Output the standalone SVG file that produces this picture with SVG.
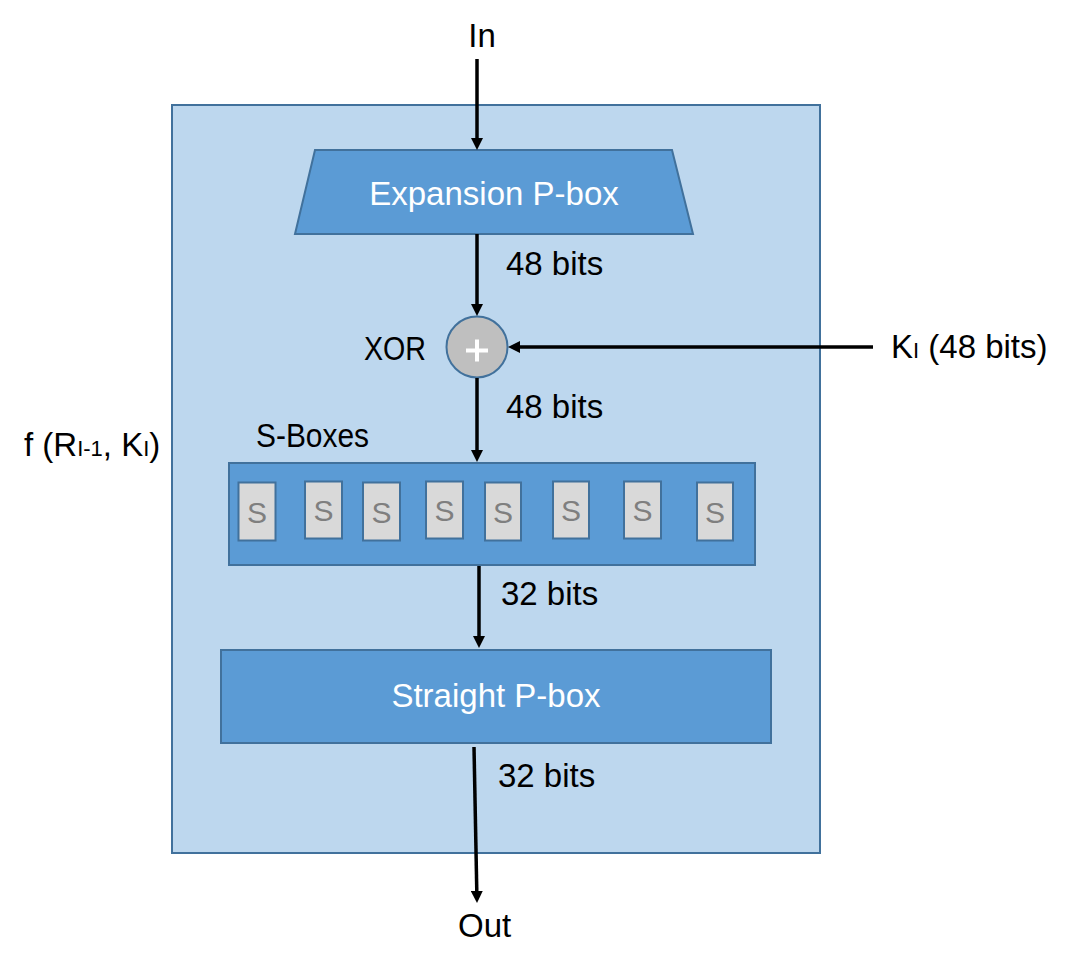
<svg xmlns="http://www.w3.org/2000/svg" width="1073" height="970" viewBox="0 0 1073 970">
<style>
text{font-family:"Liberation Sans",Arial,sans-serif;font-size:33px;fill:#000}
.w{fill:#fff}
.box{fill:#5B9BD5;stroke:#41719C;stroke-width:2}
.s{fill:#D9D9D9;stroke:#41719C;stroke-width:2}
.st{fill:#7F7F7F;font-size:30px;text-anchor:middle}
.c{fill:none;stroke:#000;stroke-width:3.5}
.sub{font-size:22px}
</style>
<defs>
<marker id="arr" viewBox="0 0 12 12" refX="6" refY="6" markerWidth="12" markerHeight="12" markerUnits="userSpaceOnUse" orient="auto">
<path d="M0,0 L12,6 L0,12 z" fill="#000"/>
</marker>
</defs>
<rect width="1073" height="970" fill="#fff"/>
<g id="outer">
<rect x="172" y="105" width="648" height="748" fill="#BDD7EE" stroke="#41719C" stroke-width="2"/>
<text x="24" y="456">f (R<tspan class="sub">I-1</tspan>, K<tspan class="sub">I</tspan>)</text>
</g>
<g id="in"><text x="482" y="47" text-anchor="middle">In</text></g>
<g id="expansion">
<polygon class="box" points="315,150 672,150 693,234 295,234"/>
<text class="w" x="494" y="205" text-anchor="middle">Expansion P-box</text>
</g>
<g id="xor">
<circle cx="477" cy="347" r="30.5" fill="#BFBFBF" stroke="#41719C" stroke-width="2"/>
<path d="M466,350.5 H488 M477,339.5 V361.5" stroke="#fff" stroke-width="4" fill="none"/>
<text x="364" y="360" textLength="62" lengthAdjust="spacingAndGlyphs">XOR</text>
</g>
<g id="key"><text x="891" y="358">K<tspan class="sub">I</tspan> (48 bits)</text></g>
<g id="sboxes">
<text x="256" y="447" textLength="113" lengthAdjust="spacingAndGlyphs">S-Boxes</text>
<rect class="box" x="229" y="463" width="526" height="102"/>
<rect class="s" x="238.5" y="482.5" width="37" height="58"/><text class="st" x="257" y="523">S</text>
<rect class="s" x="305" y="481.5" width="37" height="57"/><text class="st" x="323.5" y="521">S</text>
<rect class="s" x="363" y="482.5" width="37" height="58"/><text class="st" x="381.5" y="523">S</text>
<rect class="s" x="426" y="481.5" width="37" height="57"/><text class="st" x="444.5" y="521">S</text>
<rect class="s" x="485" y="482.5" width="36" height="58"/><text class="st" x="503" y="523">S</text>
<rect class="s" x="553" y="481.5" width="36" height="57"/><text class="st" x="571" y="521">S</text>
<rect class="s" x="624" y="481.5" width="37" height="57"/><text class="st" x="642.5" y="521">S</text>
<rect class="s" x="697" y="482.5" width="36" height="58"/><text class="st" x="715" y="523">S</text>
</g>
<g id="straight">
<rect class="box" x="221" y="650" width="550" height="93"/>
<text class="w" x="496" y="707" text-anchor="middle">Straight P-box</text>
</g>
<g id="out"><text x="458" y="937">Out</text></g>
<g id="labels">
<text x="506" y="275">48 bits</text>
<text x="506" y="418">48 bits</text>
<text x="501" y="605">32 bits</text>
<text x="498" y="787">32 bits</text>
</g>
<g id="connectors">
<line class="c" x1="477" y1="59" x2="477" y2="144" marker-end="url(#arr)"/>
<line class="c" x1="477" y1="234" x2="477" y2="310" marker-end="url(#arr)"/>
<line class="c" x1="873" y1="347" x2="514" y2="347" marker-end="url(#arr)"/>
<line class="c" x1="477" y1="378" x2="477" y2="456" marker-end="url(#arr)"/>
<line class="c" x1="479" y1="566" x2="479" y2="642" marker-end="url(#arr)"/>
<line class="c" x1="474" y1="747" x2="476.9" y2="897" marker-end="url(#arr)"/>
</g>
</svg>
